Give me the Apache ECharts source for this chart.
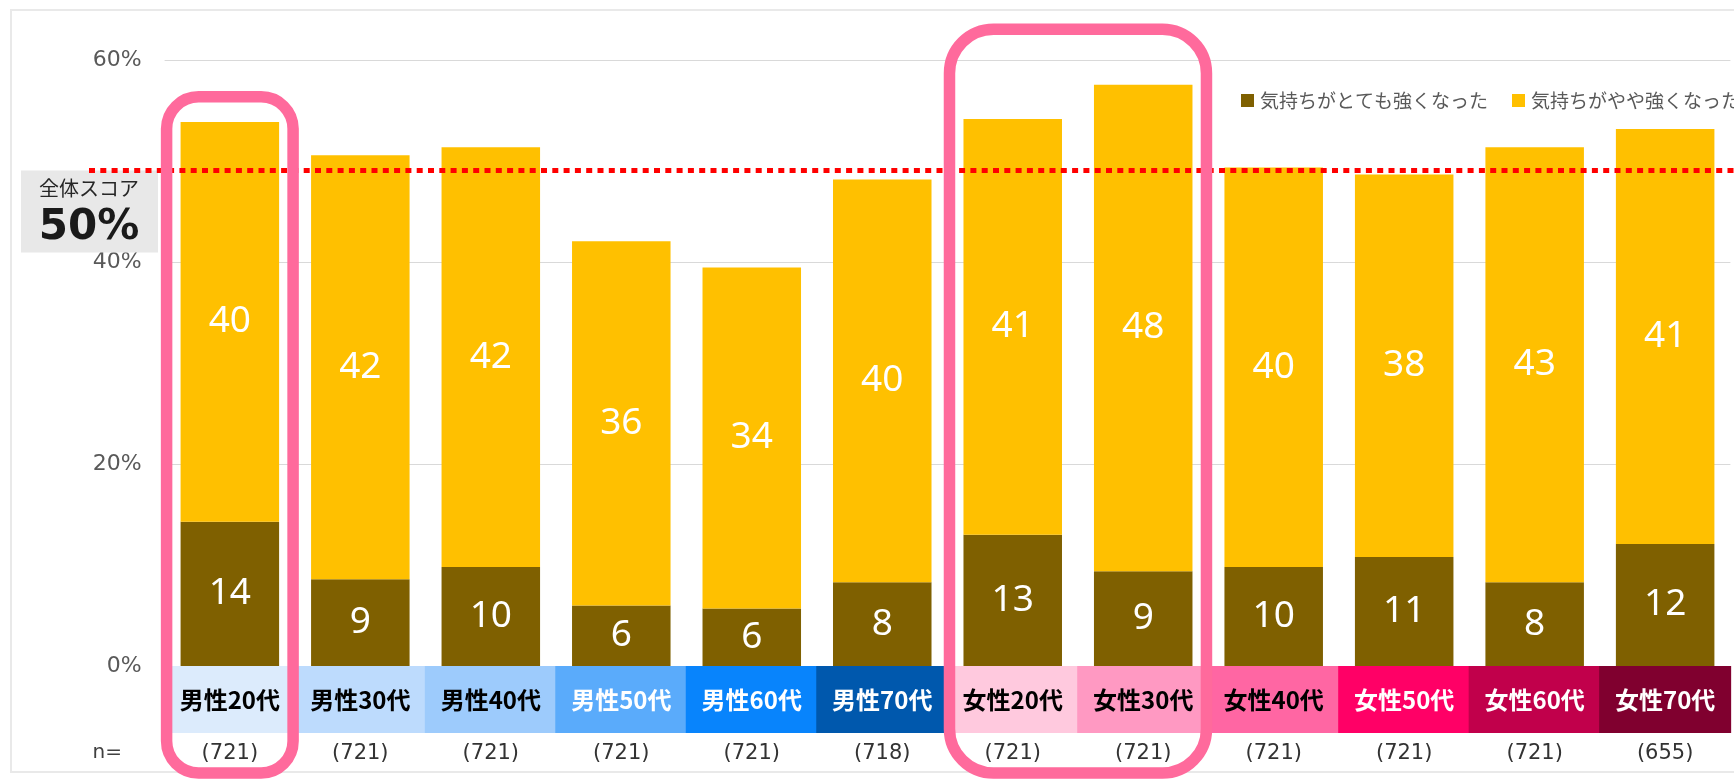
<!DOCTYPE html>
<html>
<head>
<meta charset="utf-8">
<script src="https://cdn.jsdelivr.net/npm/echarts@6/dist/echarts.min.js"></script>
<style>
html,body{margin:0;padding:0;background:#fff;}
#chart{width:1734px;height:779px;}
</style>
</head>
<body>
<div id="chart"></div>
<script>
// ---- data ----
const categories = ['男性20代','男性30代','男性40代','男性50代','男性60代','男性70代','女性20代','女性30代','女性40代','女性50代','女性60代','女性70代'];
const sampleSizes = ['(721)','(721)','(721)','(721)','(721)','(718)','(721)','(721)','(721)','(721)','(721)','(655)'];
const seriesNames = ['気持ちがとても強くなった','気持ちがやや強くなった'];
const strongValues = [14.3, 8.6, 9.8, 6.0, 5.7, 8.3, 13.0, 9.4, 9.8, 10.8, 8.3, 12.1];
const slightValues = [39.6, 42.0, 41.6, 36.1, 33.8, 39.9, 41.2, 48.2, 39.6, 37.9, 43.1, 41.1];
const yAxisMin = 0, yAxisMax = 60, yAxisInterval = 20;
const overallScore = 49.1;
const overallTitle = '全体スコア';
const overallLabel = '50%';
const nLabel = 'n=';
const boxColors = ['#DCEBFC','#BDDBFD','#9DCBFC','#5AABFB','#0884FC','#0058AD','#FFC9DE','#FF99C2','#FF66A3','#FF0066','#C1004B','#80002F'];
const boxTextColors = ['#000','#000','#000','#fff','#fff','#fff','#000','#000','#000','#fff','#fff','#fff'];
const highlightGroups = [[0,0],[6,7]];
const highlightTops = [56.4, 63.1];
const highlightRadius = [32, 44];

const JP = '"Noto Sans CJK JP", "Noto Sans", sans-serif';
const NUM = '"DejaVu Sans", "Noto Sans CJK JP", sans-serif';

const chart = echarts.init(document.getElementById('chart'), null, {renderer:'canvas'});

const gridLeft = 164.6;
const bandW = (1734 - gridLeft) / categories.length;

const option = {
  animation: false,
  backgroundColor: '#fff',
  grid: {left: gridLeft, right: 0, top: 60.5, bottom: 113, containLabel: false},
  legend: {
    left: 1236, top: 86, width: 800, orient: 'horizontal',
    icon: 'rect', itemWidth: 13, itemHeight: 13, itemGap: 24,
    selectedMode: false,
    textStyle: {fontFamily: JP, fontSize: 19, color: '#595959', padding: [0,0,0,1]},
    data: seriesNames
  },
  xAxis: [
    {
      type: 'category',
      data: categories.map((c, i) => ({
        value: c,
        textStyle: {backgroundColor: boxColors[i], color: boxTextColors[i]}
      })),
      axisLine: {show: false}, axisTick: {show: false},
      axisLabel: {
        interval: 0, margin: 0,
        fontFamily: JP, fontSize: 24, fontWeight: 'bold',
        width: Math.ceil(bandW) + 1, height: 67, lineHeight: 67,
        align: 'center', verticalAlign: 'top', padding: 0
      }
    },
    {
      type: 'category', position: 'bottom', offset: 67,
      data: sampleSizes,
      axisLine: {show: false}, axisTick: {show: false},
      axisLabel: {interval: 0, margin: 10, fontFamily: NUM, fontSize: 21, color: '#333'}
    }
  ],
  yAxis: {
    type: 'value', min: yAxisMin, max: yAxisMax, interval: yAxisInterval,
    axisLine: {show: false}, axisTick: {show: false},
    axisLabel: {formatter: '{value}%', margin: 23, fontFamily: NUM, fontSize: 22, color: '#595959'},
    splitLine: {lineStyle: {color: '#d9d9d9', width: 1}}
  },
  series: [
    {
      name: seriesNames[0], type: 'bar', stack: 'total', barWidth: '75.5%',
      itemStyle: {color: '#7F6000'},
      label: {show: true, position: 'inside', color: '#fff', fontFamily: '"Noto Sans", sans-serif', fontSize: 37,
        formatter: p => Math.round(p.value)},
      data: strongValues
    },
    {
      name: seriesNames[1], type: 'bar', stack: 'total', barWidth: '75.5%',
      itemStyle: {color: '#FFC000'},
      label: {show: true, position: 'inside', color: '#fff', fontFamily: '"Noto Sans", sans-serif', fontSize: 37,
        formatter: p => Math.round(p.value)},
      data: slightValues
    }
  ]
};
chart.setOption(option);

// ---- annotations computed from the chart's scales ----
const yRed = chart.convertToPixel({yAxisIndex: 0}, overallScore);
const yZero = chart.convertToPixel({yAxisIndex: 0}, 0);
const cx0 = chart.convertToPixel({xAxisIndex: 0}, 0);
const cx1 = chart.convertToPixel({xAxisIndex: 0}, 1);
const bw = cx1 - cx0;

const graphics = [];
graphics.push({
  type: 'rect', z: 0, silent: true,
  shape: {x: 11, y: 10, width: 1760, height: yZero + 106 - 10},
  style: {fill: 'none', stroke: '#e9e9e9', lineWidth: 2}
});
graphics.push({
  type: 'rect', z: 50, silent: true,
  shape: {x: 21, y: yRed, width: 137, height: 82},
  style: {fill: '#e8e8e8'}
});
graphics.push({
  type: 'text', z: 51, silent: true, x: 89, y: yRed + 18,
  style: {text: overallTitle, font: '20px ' + JP, fill: '#262626', align: 'center', verticalAlign: 'middle', textAlign: 'center', textVerticalAlign: 'middle'}
});
graphics.push({
  type: 'text', z: 51, silent: true, x: 89, y: yRed + 58,
  style: {text: overallLabel, font: 'bold 42px ' + NUM, fill: '#1a1a1a', align: 'center', verticalAlign: 'middle', textAlign: 'center', textVerticalAlign: 'middle'}
});
graphics.push({
  type: 'line', z: 60, silent: true,
  shape: {x1: 89, y1: yRed, x2: 1734, y2: yRed},
  style: {stroke: '#FF0000', lineWidth: 5, lineDash: [6, 5.3]}
});
graphics.push({
  type: 'text', z: 51, silent: true, x: 122, y: yZero + 87,
  style: {text: nLabel, font: '20px ' + NUM, fill: '#404040', align: 'right', verticalAlign: 'middle', textAlign: 'right', textVerticalAlign: 'middle'}
});
highlightGroups.forEach((g, k) => {
  const left = chart.convertToPixel({xAxisIndex: 0}, g[0]) - bw / 2 + 2;
  const right = chart.convertToPixel({xAxisIndex: 0}, g[1]) + bw / 2 - 2;
  const top = chart.convertToPixel({yAxisIndex: 0}, highlightTops[k]);
  const bottom = yZero + 107;
  graphics.push({
    type: 'rect', z: 70, silent: true,
    shape: {x: left, y: top, width: right - left, height: bottom - top, r: highlightRadius[k]},
    style: {fill: 'none', stroke: '#FF6A9C', lineWidth: 11.5}
  });
});
chart.setOption({graphic: graphics});
</script>
</body>
</html>
